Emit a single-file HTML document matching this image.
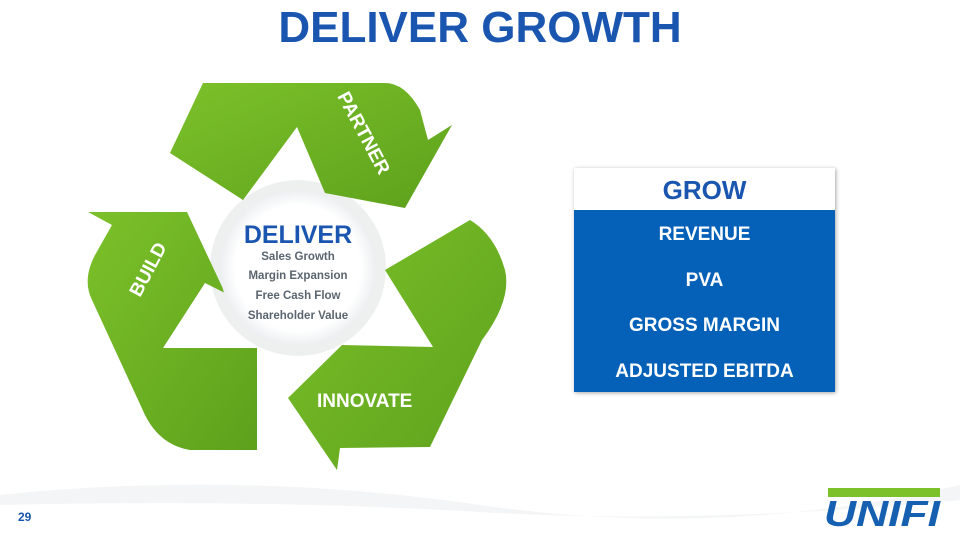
<!DOCTYPE html>
<html><head><meta charset="utf-8"><style>
body{margin:0;width:960px;height:540px;overflow:hidden;background:#fff;font-family:"Liberation Sans",sans-serif;position:relative}
.t{position:absolute;left:0;width:960px;top:3px;text-align:center;font-weight:bold;font-size:44px;color:#1a56b0}
.box{position:absolute;left:574px;top:168px;width:261px;height:224px;box-shadow:1px 1px 4px rgba(0,0,0,.35)}
.hd{height:42px;background:#fff;color:#1a56b0;font-weight:bold;font-size:26px;text-align:center;line-height:44px}
.bl{height:182px;background:#0560b8;color:#fff;font-weight:bold;font-size:19px;text-align:center;padding-top:2px;box-sizing:border-box}
.bl div{height:45.5px;line-height:45.5px}
</style></head><body>
<div class="t">DELIVER GROWTH</div>
<svg width="960" height="540" style="position:absolute;left:0;top:0">
<defs>
<linearGradient id="g" x1="0" y1="0" x2="1" y2="1"><stop offset="0" stop-color="#7cc12a"/><stop offset="1" stop-color="#5da11c"/></linearGradient>
<radialGradient id="c"><stop offset=".8" stop-color="#fff"/><stop offset="1" stop-color="#eceff1"/></radialGradient>
</defs>
<path d="M0 495 Q240 470 480 505 T960 485 L960 500 Q700 525 480 512 T0 505Z" fill="#f3f5f6"/>
<circle cx="298" cy="268" r="88" fill="#eef0f0"/>
<g fill="url(#g)">
<path d="M170 153 L203 83 L385 83 Q405 83 420 110 L428 140 L452 125 L405 208 L325 193 L297 127 L243 200Z"/>
<path d="M88 212 L187 212 L225 293 L205 283 L163 348 L257 348 L257 450 L190 450 Q160 445 145 415 L92 300 Q82 280 95 255 L112 225Z"/>
<path d="M385 270 L470 220 Q495 235 505 270 Q512 300 482 340 L430 447 L340 448 L337 470 L288 398 L342 345 L433 347Z"/>
</g>
<circle cx="298" cy="268" r="78" fill="url(#c)"/>
<text x="298" y="243" text-anchor="middle" font-weight="bold" font-size="25" fill="#1a56b0">DELIVER</text>
<g font-weight="bold" font-size="11.5" fill="#5b6570" text-anchor="middle">
<text x="298" y="260">Sales Growth</text><text x="298" y="279">Margin Expansion</text>
<text x="298" y="299">Free Cash Flow</text><text x="298" y="319">Shareholder Value</text></g>
<g font-weight="bold" font-size="19" fill="#fff">
<text transform="translate(337,96) rotate(62)">PARTNER</text>
<text transform="translate(140,298) rotate(-62)">BUILD</text>
<text x="317" y="407">INNOVATE</text></g>
<text x="18" y="521" font-weight="bold" font-size="12" fill="#1a56b0">29</text>
<text x="824" y="526" font-weight="900" font-style="italic" font-size="36" fill="#1560b0" textLength="116" lengthAdjust="spacingAndGlyphs">UNIFI</text>
<rect x="828" y="488" width="112" height="9" fill="#7cc12a"/>
</svg>
<div class="box"><div class="hd">GROW</div><div class="bl"><div>REVENUE</div><div>PVA</div><div>GROSS MARGIN</div><div>ADJUSTED EBITDA</div></div></div>
</body></html>
